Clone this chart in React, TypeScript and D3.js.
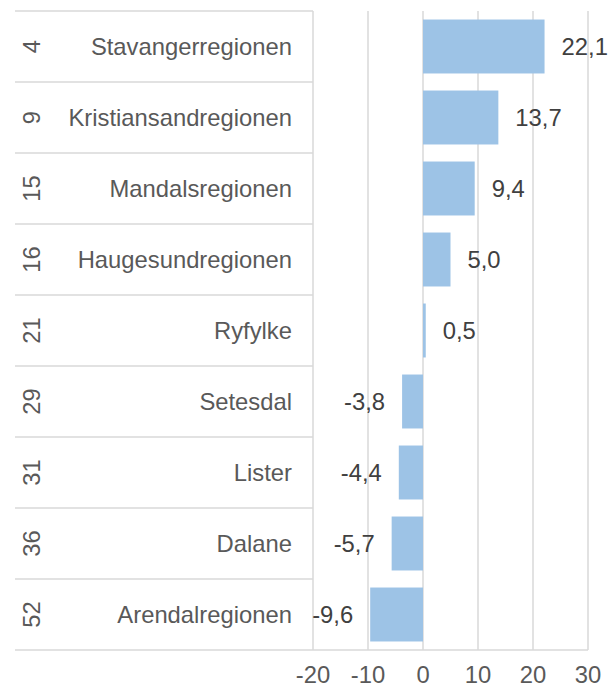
import React from "react";
import * as d3 from "d3";

const ranks = ["4", "9", "15", "16", "21", "29", "31", "36", "52"];
const regions = [
  "Stavangerregionen",
  "Kristiansandregionen",
  "Mandalsregionen",
  "Haugesundregionen",
  "Ryfylke",
  "Setesdal",
  "Lister",
  "Dalane",
  "Arendalregionen",
];
const values = [22.1, 13.7, 9.4, 5.0, 0.5, -3.8, -4.4, -5.7, -9.6];
const ticks = [-20, -10, 0, 10, 20, 30];

const W = 612;
const H = 687;
const FONT = "'Liberation Sans', Arial, sans-serif";
const FS = 23.8;

export default function App() {
  const x = d3.scaleLinear().domain([-20, 30]).range([313, 588]);
  const y = d3
    .scaleBand<number>()
    .domain(d3.range(regions.length))
    .range([11, 650])
    .paddingInner(0.24)
    .paddingOuter(0.12);
  const band = (650 - 11) / regions.length;
  const rowTop = (i: number) => 11 + i * band;
  const fmt = (v: number) => v.toFixed(1).replace(".", ",");

  return (
    <svg
      width={W}
      height={H}
      style={{ position: "absolute", left: 0, top: 0, background: "#fff" }}
      fontFamily={FONT}
    >
      {/* table lines */}
      {d3.range(regions.length + 1).map((i) => (
        <line
          key={"h" + i}
          x1={15}
          x2={x(-20)}
          y1={rowTop(i)}
          y2={rowTop(i)}
          stroke="#d9d9d9"
          strokeWidth={1.5}
        />
      ))}
      {/* grid */}
      {ticks.map((t) => (
        <line
          key={"g" + t}
          x1={x(t)}
          x2={x(t)}
          y1={11}
          y2={650}
          stroke="#d9d9d9"
          strokeWidth={1.5}
        />
      ))}
      <line x1={x(-20)} x2={x(30)} y1={650} y2={650} stroke="#d9d9d9" strokeWidth={1.5} />
      {/* bars */}
      {values.map((v, i) => (
        <rect
          key={"b" + i}
          x={Math.min(x(0), x(v))}
          y={y(i)!}
          width={Math.abs(x(v) - x(0))}
          height={y.bandwidth()}
          fill="#9dc3e6"
        />
      ))}
      {/* value labels */}
      {values.map((v, i) => (
        <text
          key={"v" + i}
          x={v >= 0 ? x(v) + 17 : x(v) - 17}
          y={rowTop(i) + band / 2}
          dy="0.35em"
          textAnchor={v >= 0 ? "start" : "end"}
          fontSize={FS}
          fill="#404040"
        >
          {fmt(v)}
        </text>
      ))}
      {/* region names */}
      {regions.map((r, i) => (
        <text
          key={"r" + i}
          x={292}
          y={rowTop(i) + band / 2}
          dy="0.35em"
          textAnchor="end"
          fontSize={FS}
          fill="#595959"
        >
          {r}
        </text>
      ))}
      {/* ranks */}
      {ranks.map((r, i) => (
        <text
          key={"k" + i}
          transform={`translate(32,${rowTop(i) + band / 2}) rotate(-90)`}
          dy="0.35em"
          textAnchor="middle"
          fontSize={FS}
          fill="#595959"
        >
          {r}
        </text>
      ))}
      {/* tick labels */}
      {ticks.map((t) => (
        <text
          key={"t" + t}
          x={x(t)}
          y={683}
          textAnchor="middle"
          fontSize={FS}
          fill="#595959"
        >
          {t}
        </text>
      ))}
    </svg>
  );
}
